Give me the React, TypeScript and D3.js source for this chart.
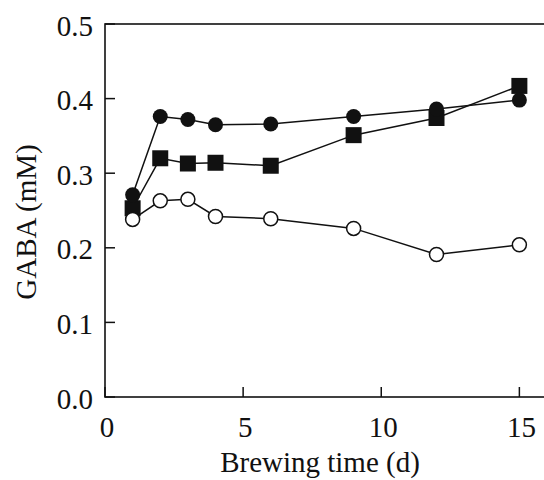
import React from "react";
import * as d3 from "d3";

// Brewing time (days) and GABA concentration (mM) for three conditions
const days = [1, 2, 3, 4, 6, 9, 12, 15];
const filledCircle = [0.271, 0.376, 0.372, 0.365, 0.366, 0.376, 0.386, 0.398];
const filledSquare = [0.253, 0.32, 0.313, 0.314, 0.31, 0.351, 0.374, 0.417];
const openCircle = [0.238, 0.263, 0.265, 0.242, 0.239, 0.226, 0.191, 0.204];

const xTicks = [0, 5, 10, 15];
const yTicks = [0, 0.1, 0.2, 0.3, 0.4, 0.5];

const W = 544;
const H = 480;
const FONT = "'Liberation Serif', 'Times New Roman', serif";
const INK = "#111";
const FS = 29;

export default function App() {
  const x = d3.scaleLinear().domain([0, 16]).range([105, 547]);
  const y = d3.scaleLinear().domain([0, 0.5]).range([397, 24]);

  const line = d3
    .line<[number, number]>()
    .x((d) => x(d[0]))
    .y((d) => y(d[1]));

  const pts = (vals: number[]) => days.map((d, i) => [d, vals[i]] as [number, number]);
  const fmt = d3.format(".1f");
  const sq = 16;

  return (
    <svg
      width={W}
      height={H}
      style={{ position: "absolute", left: 0, top: 0, background: "#fff" }}
      fontFamily={FONT}
    >
      {/* frame */}
      <rect
        x={x(0)}
        y={y(0.5)}
        width={x(16) - x(0)}
        height={y(0) - y(0.5)}
        fill="none"
        stroke={INK}
        strokeWidth={1.6}
      />

      {/* y axis ticks (inward) and labels */}
      {yTicks.map((t) => (
        <g key={"y" + t}>
          <line x1={x(0)} x2={x(0) + 10} y1={y(t)} y2={y(t)} stroke={INK} strokeWidth={1.5} />
          <text x={93} y={y(t) + 11.5} textAnchor="end" fontSize={FS} fill={INK}>
            {fmt(t)}
          </text>
        </g>
      ))}

      {/* x axis ticks (inward) and labels */}
      {xTicks.map((t) => (
        <g key={"x" + t}>
          <line x1={x(t)} x2={x(t)} y1={y(0)} y2={y(0) - 10} stroke={INK} strokeWidth={1.5} />
          <text x={x(t) + 2} y={437} textAnchor="middle" fontSize={FS} fill={INK}>
            {t}
          </text>
        </g>
      ))}

      <text x={320} y={472} textAnchor="middle" fontSize={FS} fill={INK}>
        Brewing time (d)
      </text>
      <text
        transform={`translate(36, 222) rotate(-90)`}
        textAnchor="middle"
        fontSize={FS}
        fill={INK}
      >
        GABA (mM)
      </text>

      {/* series lines */}
      <path d={line(pts(filledSquare)) || ""} fill="none" stroke={INK} strokeWidth={1.5} />
      <path d={line(pts(filledCircle)) || ""} fill="none" stroke={INK} strokeWidth={1.5} />
      <path d={line(pts(openCircle)) || ""} fill="none" stroke={INK} strokeWidth={1.5} />

      {/* markers */}
      {pts(filledSquare).map(([d, v]) => (
        <rect key={"s" + d} x={x(d) - sq / 2} y={y(v) - sq / 2} width={sq} height={sq} fill={INK} />
      ))}
      {pts(filledCircle).map(([d, v]) => (
        <circle key={"c" + d} cx={x(d)} cy={y(v)} r={7.5} fill={INK} />
      ))}
      {pts(openCircle).map(([d, v]) => (
        <circle key={"o" + d} cx={x(d)} cy={y(v)} r={7} fill="#fff" stroke={INK} strokeWidth={1.5} />
      ))}
    </svg>
  );
}
